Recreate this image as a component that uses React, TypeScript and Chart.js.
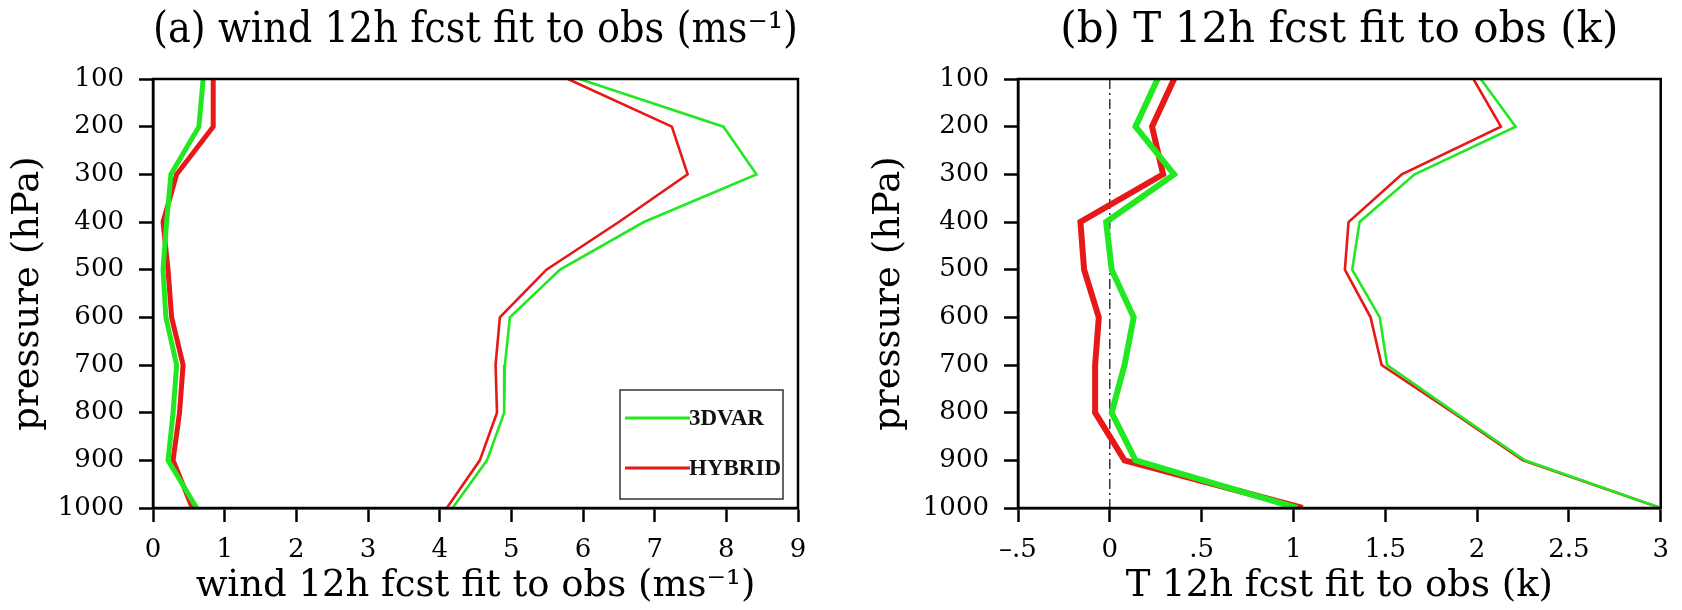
import React, { useEffect, useRef } from 'react';
import { Chart, registerables } from 'chart.js';

Chart.register(...registerables);

// ---------------- data ----------------
const pressureLevels = [100, 200, 300, 400, 500, 600, 700, 800, 900, 1000];
const pressureTickLabels = ['100', '200', '300', '400', '500', '600', '700', '800', '900', '1000'];

// (a) wind 12h fcst fit to obs
const windBias3DVAR = [0.70, 0.64, 0.25, 0.19, 0.14, 0.18, 0.33, 0.28, 0.21, 0.61];
const windBiasHYBRID = [0.84, 0.84, 0.33, 0.14, 0.21, 0.26, 0.42, 0.37, 0.28, 0.55];
const windRms3DVAR = [5.95, 7.96, 8.42, 6.85, 5.68, 4.98, 4.91, 4.90, 4.66, 4.18];
const windRmsHYBRID = [5.79, 7.24, 7.46, 6.50, 5.49, 4.84, 4.78, 4.80, 4.56, 4.10];

// (b) T 12h fcst fit to obs
const tBias3DVAR = [0.26, 0.14, 0.35, -0.02, 0.01, 0.13, 0.08, 0.01, 0.14, 1.02];
const tBiasHYBRID = [0.35, 0.23, 0.29, -0.16, -0.14, -0.06, -0.08, -0.08, 0.08, 1.05];
const tRms3DVAR = [2.02, 2.21, 1.66, 1.36, 1.32, 1.47, 1.51, 1.88, 2.26, 3.0];
const tRmsHYBRID = [1.98, 2.13, 1.59, 1.30, 1.28, 1.42, 1.48, 1.87, 2.25, 3.0];

const windTickValues = [0, 1, 2, 3, 4, 5, 6, 7, 8, 9];
const windTickLabels = ['0', '1', '2', '3', '4', '5', '6', '7', '8', '9'];
const tTickValues = [-0.5, 0, 0.5, 1, 1.5, 2, 2.5, 3];
const tTickLabels = ['\u2013.5', '0', '.5', '1', '1.5', '2', '2.5', '3'];

const seriesNames = ['3DVAR', 'HYBRID'];
const seriesColors = ['rgb(34,232,34)', 'rgb(230,24,24)'];

// ---------------- helpers ----------------
const FONT = 'DejaVu Serif';

const toPoints = (vals: number[]) => vals.map((v, i) => ({ x: v, y: pressureLevels[i] }));

const framePlugin = {
  id: 'frame',
  afterDatasetsDraw(chart: any) {
    const { ctx, chartArea } = chart;
    const { left, top, right, bottom } = chartArea;
    ctx.save();
    ctx.strokeStyle = '#000';
    ctx.lineWidth = 2.5;
    ctx.strokeRect(left, top, right - left, bottom - top);
    ctx.restore();
  },
};

const boxLegendPlugin = {
  id: 'boxLegend',
  afterDraw(chart: any, _args: any, opts: any) {
    if (!opts || !opts.show) return;
    const { ctx, chartArea } = chart;
    const w = 163;
    const h = 109;
    const x = chartArea.right - 15 - w;
    const y = chartArea.bottom - 9 - h;
    ctx.save();
    ctx.fillStyle = '#fff';
    ctx.fillRect(x, y, w, h);
    ctx.strokeStyle = '#333';
    ctx.lineWidth = 1.5;
    ctx.strokeRect(x, y, w, h);
    ctx.font = 'bold 23px "Liberation Serif"';
    ctx.textBaseline = 'middle';
    ctx.textAlign = 'left';
    seriesNames.forEach((name, i) => {
      const ly = y + 28 + i * 50;
      ctx.strokeStyle = seriesColors[i];
      ctx.lineWidth = 3;
      ctx.beginPath();
      ctx.moveTo(x + 5, ly);
      ctx.lineTo(x + 70, ly);
      ctx.stroke();
      ctx.fillStyle = '#111';
      ctx.fillText(name, x + 69, ly + 1);
    });
    ctx.restore();
  },
};

function makeConfig(p: {
  title: string;
  xTitle: string;
  bias: number[][];
  rms: number[][];
  thick: number;
  xMin: number;
  xMax: number;
  tickValues: number[];
  tickLabels: string[];
  yWidth: number;
  rightPad: number;
  zeroLine: boolean;
  legend: boolean;
}) {
  const datasets: any[] = [
    {
      label: seriesNames[0],
      data: toPoints(p.bias[0]),
      borderColor: seriesColors[0],
      borderWidth: p.thick,
    },
    {
      label: seriesNames[0],
      data: toPoints(p.rms[0]),
      borderColor: seriesColors[0],
      borderWidth: 2.6,
    },
    {
      label: seriesNames[1],
      data: toPoints(p.bias[1]),
      borderColor: seriesColors[1],
      borderWidth: p.thick,
    },
    {
      label: seriesNames[1],
      data: toPoints(p.rms[1]),
      borderColor: seriesColors[1],
      borderWidth: 2.6,
    },
  ];
  if (p.zeroLine) {
    datasets.push({
      label: 'zero',
      data: [
        { x: 0, y: pressureLevels[0] },
        { x: 0, y: pressureLevels[pressureLevels.length - 1] },
      ],
      borderColor: '#000',
      borderWidth: 1.2,
      borderDash: [10, 4, 2, 4],
    });
  }
  datasets.forEach((d) => {
    d.showLine = true;
    d.pointRadius = 0;
    d.fill = false;
    d.tension = 0;
    d.borderJoinStyle = 'miter';
  });

  return {
    type: 'scatter',
    data: { datasets },
    plugins: [framePlugin, boxLegendPlugin],
    options: {
      animation: false,
      responsive: false,
      devicePixelRatio: 1,
      events: [],
      layout: { padding: { left: 0, top: 0, right: p.rightPad, bottom: 0 } },
      plugins: {
        legend: { display: false },
        tooltip: { enabled: false },
        title: {
          display: true,
          text: p.title,
          fullSize: false,
          color: '#000',
          font: { family: FONT, size: 42, weight: 'normal' },
          padding: { top: 6, bottom: 22.6 },
        },
        boxLegend: { show: p.legend },
      },
      scales: {
        x: {
          type: 'linear',
          min: p.xMin,
          max: p.xMax,
          afterFit: (s: any) => {
            s.height = 102;
          },
          afterBuildTicks: (s: any) => {
            s.ticks = p.tickValues.map((v) => ({ value: v }));
          },
          ticks: {
            color: '#000',
            padding: 13,
            maxRotation: 0,
            autoSkip: false,
            font: { family: FONT, size: 26 },
            callback: (value: number) => {
              const idx = p.tickValues.findIndex((v) => Math.abs(v - value) < 1e-6);
              return idx >= 0 ? p.tickLabels[idx] : '';
            },
          },
          grid: {
            drawOnChartArea: false,
            drawTicks: true,
            tickLength: 14,
            tickColor: '#000',
            tickWidth: 2.5,
          },
          border: { display: true, color: '#000', width: 2.5 },
          title: {
            display: true,
            text: p.xTitle,
            color: '#000',
            font: { family: FONT, size: 37, weight: 'normal' },
            padding: { top: 0, bottom: 1 },
          },
        },
        y: {
          type: 'linear',
          reverse: true,
          min: 100,
          max: 1000,
          afterFit: (s: any) => {
            s.width = p.yWidth;
          },
          afterBuildTicks: (s: any) => {
            s.ticks = pressureLevels.map((v) => ({ value: v }));
          },
          ticks: {
            color: '#000',
            padding: 15,
            autoSkip: false,
            font: { family: FONT, size: 26 },
            callback: (value: number) => {
              const idx = pressureLevels.indexOf(Math.round(value));
              return idx >= 0 ? pressureTickLabels[idx] : '';
            },
          },
          grid: {
            drawOnChartArea: false,
            drawTicks: true,
            tickLength: 14,
            tickColor: '#000',
            tickWidth: 2.5,
          },
          border: { display: true, color: '#000', width: 2.5 },
          title: {
            display: true,
            text: 'pressure (hPa)',
            color: '#000',
            font: { family: FONT, size: 37, weight: 'normal' },
            padding: { top: 6, bottom: 0 },
          },
        },
      },
    },
  };
}

function Panel(props: { cfg: any; left: number; width: number }) {
  const ref = useRef<HTMLCanvasElement | null>(null);
  useEffect(() => {
    if (!ref.current) return;
    const chart = new Chart(ref.current, props.cfg);
    return () => chart.destroy();
  }, []);
  return (
    <canvas
      ref={ref}
      width={props.width}
      height={610}
      style={{ position: 'absolute', left: props.left, top: 0, width: props.width, height: 610 }}
    />
  );
}

export default function App() {
  const cfgA = makeConfig({
    title: '(a) wind 12h fcst fit to obs (ms\u207B\u00B9)',
    xTitle: 'wind 12h fcst fit to obs (ms\u207B\u00B9)',
    bias: [windBias3DVAR, windBiasHYBRID],
    rms: [windRms3DVAR, windRmsHYBRID],
    thick: 5,
    xMin: 0,
    xMax: 9,
    tickValues: windTickValues,
    tickLabels: windTickLabels,
    yWidth: 153,
    rightPad: 43,
    zeroLine: false,
    legend: true,
  });
  const cfgB = makeConfig({
    title: '(b) T 12h fcst fit to obs (k)',
    xTitle: 'T 12h fcst fit to obs (k)',
    bias: [tBias3DVAR, tBiasHYBRID],
    rms: [tRms3DVAR, tRmsHYBRID],
    thick: 6,
    xMin: -0.5,
    xMax: 3,
    tickValues: tTickValues,
    tickLabels: tTickLabels,
    yWidth: 157,
    rightPad: 21,
    zeroLine: true,
    legend: false,
  });
  return (
    <div style={{ position: 'absolute', left: 0, top: 0, width: 1682, height: 610, background: '#fff' }}>
      <Panel cfg={cfgA} left={0} width={841} />
      <Panel cfg={cfgB} left={861} width={821} />
    </div>
  );
}
